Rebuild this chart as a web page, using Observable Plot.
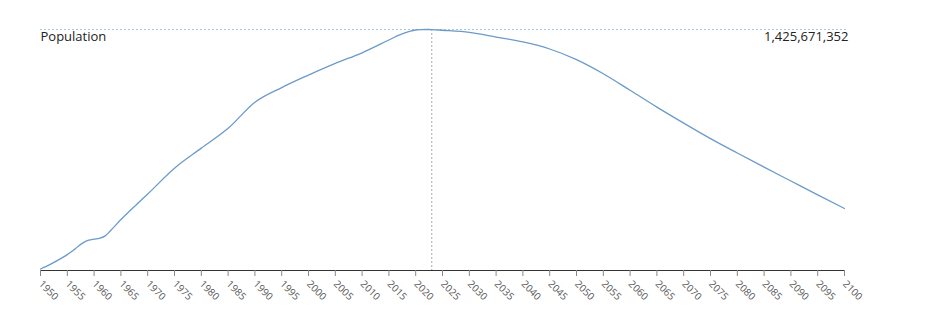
<!DOCTYPE html>
<html>
<head>
<meta charset="utf-8">
<script src="https://cdn.jsdelivr.net/npm/d3@7"></script>
<script src="https://cdn.jsdelivr.net/npm/@observablehq/plot@0.6"></script>
<style>
  html, body { margin: 0; padding: 0; background: #fff; }
  #chart svg { display: block; }
</style>
</head>
<body>
<div id="chart"></div>
<script>
// Population (millions)
const years = [1950, 1952, 1954, 1955, 1956, 1957, 1958, 1959, 1960, 1961, 1962, 1963, 1965, 1970, 1975, 1980, 1985, 1990, 1995, 2000, 2005, 2010, 2015, 2017, 2019, 2020, 2021, 2022, 2023, 2025, 2030, 2035, 2040, 2045, 2050, 2055, 2060, 2065, 2070, 2075, 2080, 2085, 2090, 2095, 2100];
const population = [544.0, 563, 585, 597, 611, 627, 641, 650, 654, 657, 665, 684, 726, 820, 915, 989, 1062, 1158, 1212, 1258, 1301, 1340, 1387, 1406, 1420, 1424, 1425.4, 1425.8, 1425.671352, 1423, 1415, 1398, 1380, 1354, 1315, 1263, 1202, 1140, 1081, 1024, 971, 919, 868, 817, 766.7];
const xTicks = [1950, 1955, 1960, 1965, 1970, 1975, 1980, 1985, 1990, 1995, 2000, 2005, 2010, 2015, 2020, 2025, 2030, 2035, 2040, 2045, 2050, 2055, 2060, 2065, 2070, 2075, 2080, 2085, 2090, 2095, 2100];
const seriesLabel = ["Population"];
const highlightYear = [2023];
const highlightValue = [1425671352];

const data = years.map((y, i) => ({year: y, pop: population[i]}));
const peakM = highlightValue[0] / 1e6;

const chart = Plot.plot({
  width: 926,
  height: 315,
  marginLeft: 40,
  marginRight: 82,
  marginTop: 29,
  marginBottom: 45,
  style: {fontFamily: "'Open Sans', sans-serif", background: "#fff", overflow: "visible"},
  x: {domain: [1950, 2100]},
  y: {domain: d3.extent(population), insetBottom: 1.5, axis: null},
  marks: [
    Plot.ruleY([peakM], {stroke: "#a9c7e3", strokeDasharray: "2,2", strokeWidth: 1, insetRight: -4}),
    Plot.ruleX(highlightYear, {stroke: "#98a9bb", strokeDasharray: "2,2", strokeWidth: 1}),
    Plot.frame({anchor: "bottom", stroke: "#333"}),
    Plot.axisX({ticks: xTicks, tickFormat: "d", tickRotate: 45, tickSize: 6, stroke: "#888", fill: "#5a5a5a", fontSize: 10, label: null}),
    Plot.line(data, {x: "year", y: "pop", stroke: "#6b9bc8", strokeWidth: 1.3, curve: "monotone-x"}),
    Plot.text(seriesLabel, {frameAnchor: "top-left", textAnchor: "start", lineAnchor: "top", dy: 2, fontSize: 13, fill: "#222"}),
    Plot.text(highlightValue, {text: d => d3.format(",")(d), frameAnchor: "top-right", textAnchor: "end", lineAnchor: "top", dx: 4, dy: 2, fontSize: 13, fill: "#222"})
  ]
});
document.getElementById("chart").appendChild(chart);
</script>
</body>
</html>
